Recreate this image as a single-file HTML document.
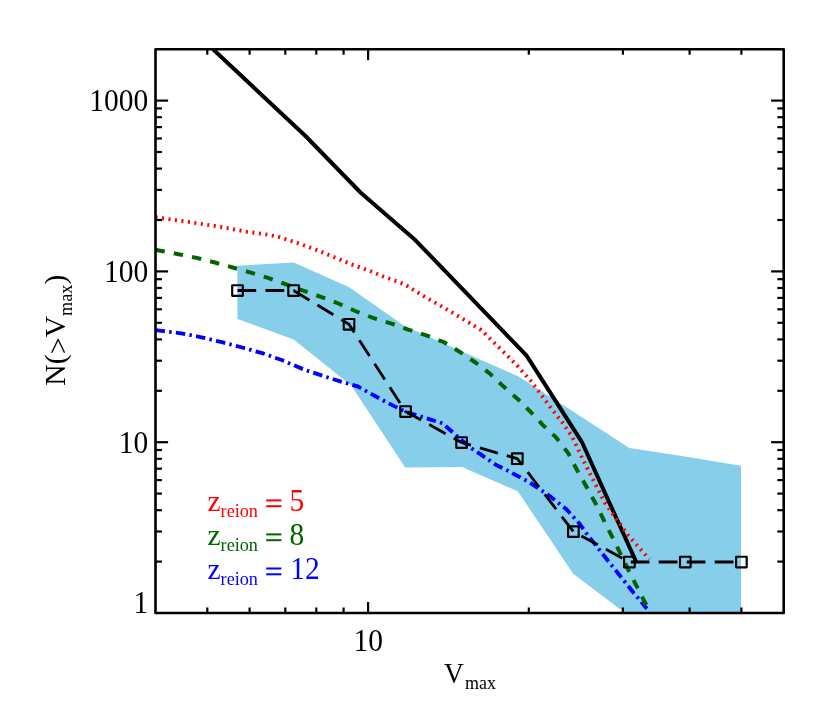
<!DOCTYPE html>
<html><head><meta charset="utf-8"><title>plot</title>
<style>
html,body{margin:0;padding:0;background:#fff;}
body{width:830px;height:712px;overflow:hidden;}
svg{display:block;will-change:transform;font-family:"Liberation Serif",serif;}
</style></head><body>
<svg width="830" height="712" viewBox="0 0 830 712">
<rect x="0" y="0" width="830" height="712" fill="#ffffff"/>
<defs><clipPath id="cp"><rect x="155.5" y="49.2" width="628.2" height="563.8"/></clipPath></defs>
<g clip-path="url(#cp)" fill="none" stroke-linejoin="round">
<polygon points="237.4,265.8 293.7,262.5 348.8,286.9 404.2,325.7 461.5,351.2 518.5,376.5 573.5,411.8 629.3,448.0 685.0,456.5 741.0,465.8 741.0,613.0 625.0,613.0 573.2,573.7 517.8,491.3 462.0,466.9 405.2,467.5 351.2,385.4 293.7,339.5 237.4,319.0" fill="#87ceeb" stroke="none"/>
<polyline points="213.0,49.2 305.5,136.0 360.5,192.5 415.5,240.3 526.4,355.4 581.8,441.8 636.0,561.5" stroke="#000" stroke-width="4"/>
<polyline points="155.5,217.2 162.6,218.3 188.3,221.9 214.4,225.9 227.3,228.1 246.6,231.7 265.9,234.4 278.6,236.9 297.1,242.8 315.7,249.6 334.2,257.2 352.8,264.8 371.3,271.5 382.2,276.1 400.0,282.5 406.0,285.2 423.4,296.0 452.3,312.6 481.2,330.0 498.5,347.0 517.1,365.5 530.6,380.7 538.2,390.8 550.0,406.8 562.6,422.8 571.9,436.3 581.2,456.0 592.8,479.2 604.7,502.5 627.5,534.6 649.4,559.3" stroke="#ff0000" stroke-width="3.9" stroke-dasharray="2.05 4.49"/>
<polyline points="155.5,330.1 161.3,330.8 181.2,333.3 201.4,337.3 222.0,342.2 242.3,347.5 263.0,353.4 282.4,360.3 303.7,369.5 325.0,376.6 346.3,383.2 357.5,386.3 385.0,401.5 405.6,411.8 442.5,423.3 454.0,433.5 470.0,447.5 480.0,453.9 496.0,464.9 506.0,469.8 527.7,481.3 549.4,495.8 566.7,509.5 579.8,524.0 585.3,532.0 610.6,564.0 630.8,589.3 646.9,608.7" stroke="#0000ff" stroke-width="3.85" stroke-dasharray="9.5 4.25 2.5 4.25"/>
<polyline points="155.5,249.8 160.1,250.7 178.5,254.2 196.7,257.9 214.9,262.5 232.7,267.5 250.8,272.7 268.0,277.8 303.9,290.9 320.7,296.8 338.4,303.5 355.3,311.0 373.0,317.9 391.5,323.6 408.2,329.6 426.3,335.3 443.6,342.0 459.5,351.7 475.4,362.5 489.3,373.1 503.6,386.6 517.9,399.2 530.6,411.9 543.2,425.4 555.9,437.2 568.2,453.1 576.9,469.8 586.3,486.4 595.7,503.7 612.3,537.1 629.2,571.6 646.9,606.2" stroke="#006400" stroke-width="4" stroke-dasharray="9.4 9.2"/>
<polyline points="237.5,290.5 293.6,290.5 349.0,324.3 405.6,411.5 461.6,442.5 517.3,458.7 573.4,531.6 629.4,562.0 685.3,562.0 741.4,562.0" stroke="#000" stroke-width="2.8" stroke-dasharray="18.7 9.3"/>
<g stroke="#000" stroke-width="2.15"><rect x="232.2" y="285.2" width="10.6" height="10.6"/><rect x="288.3" y="285.2" width="10.6" height="10.6"/><rect x="343.7" y="319.0" width="10.6" height="10.6"/><rect x="400.3" y="406.2" width="10.6" height="10.6"/><rect x="456.3" y="437.2" width="10.6" height="10.6"/><rect x="512.0" y="453.4" width="10.6" height="10.6"/><rect x="568.1" y="526.3" width="10.6" height="10.6"/><rect x="624.1" y="556.7" width="10.6" height="10.6"/><rect x="680.0" y="556.7" width="10.6" height="10.6"/><rect x="736.1" y="556.7" width="10.6" height="10.6"/></g>
</g>
<g stroke="#000" stroke-width="2.2"><line x1="155.5" y1="561.6" x2="161.9" y2="561.6"/><line x1="783.7" y1="561.6" x2="777.3" y2="561.6"/><line x1="155.5" y1="531.5" x2="161.9" y2="531.5"/><line x1="783.7" y1="531.5" x2="777.3" y2="531.5"/><line x1="155.5" y1="510.2" x2="161.9" y2="510.2"/><line x1="783.7" y1="510.2" x2="777.3" y2="510.2"/><line x1="155.5" y1="493.6" x2="161.9" y2="493.6"/><line x1="783.7" y1="493.6" x2="777.3" y2="493.6"/><line x1="155.5" y1="480.1" x2="161.9" y2="480.1"/><line x1="783.7" y1="480.1" x2="777.3" y2="480.1"/><line x1="155.5" y1="468.7" x2="161.9" y2="468.7"/><line x1="783.7" y1="468.7" x2="777.3" y2="468.7"/><line x1="155.5" y1="458.8" x2="161.9" y2="458.8"/><line x1="783.7" y1="458.8" x2="777.3" y2="458.8"/><line x1="155.5" y1="450.0" x2="161.9" y2="450.0"/><line x1="783.7" y1="450.0" x2="777.3" y2="450.0"/><line x1="155.5" y1="442.2" x2="168.1" y2="442.2"/><line x1="783.7" y1="442.2" x2="771.1" y2="442.2"/><line x1="155.5" y1="390.8" x2="161.9" y2="390.8"/><line x1="783.7" y1="390.8" x2="777.3" y2="390.8"/><line x1="155.5" y1="360.7" x2="161.9" y2="360.7"/><line x1="783.7" y1="360.7" x2="777.3" y2="360.7"/><line x1="155.5" y1="339.4" x2="161.9" y2="339.4"/><line x1="783.7" y1="339.4" x2="777.3" y2="339.4"/><line x1="155.5" y1="322.8" x2="161.9" y2="322.8"/><line x1="783.7" y1="322.8" x2="777.3" y2="322.8"/><line x1="155.5" y1="309.3" x2="161.9" y2="309.3"/><line x1="783.7" y1="309.3" x2="777.3" y2="309.3"/><line x1="155.5" y1="297.9" x2="161.9" y2="297.9"/><line x1="783.7" y1="297.9" x2="777.3" y2="297.9"/><line x1="155.5" y1="288.0" x2="161.9" y2="288.0"/><line x1="783.7" y1="288.0" x2="777.3" y2="288.0"/><line x1="155.5" y1="279.2" x2="161.9" y2="279.2"/><line x1="783.7" y1="279.2" x2="777.3" y2="279.2"/><line x1="155.5" y1="271.4" x2="168.1" y2="271.4"/><line x1="783.7" y1="271.4" x2="771.1" y2="271.4"/><line x1="155.5" y1="220.0" x2="161.9" y2="220.0"/><line x1="783.7" y1="220.0" x2="777.3" y2="220.0"/><line x1="155.5" y1="189.9" x2="161.9" y2="189.9"/><line x1="783.7" y1="189.9" x2="777.3" y2="189.9"/><line x1="155.5" y1="168.6" x2="161.9" y2="168.6"/><line x1="783.7" y1="168.6" x2="777.3" y2="168.6"/><line x1="155.5" y1="152.0" x2="161.9" y2="152.0"/><line x1="783.7" y1="152.0" x2="777.3" y2="152.0"/><line x1="155.5" y1="138.5" x2="161.9" y2="138.5"/><line x1="783.7" y1="138.5" x2="777.3" y2="138.5"/><line x1="155.5" y1="127.1" x2="161.9" y2="127.1"/><line x1="783.7" y1="127.1" x2="777.3" y2="127.1"/><line x1="155.5" y1="117.2" x2="161.9" y2="117.2"/><line x1="783.7" y1="117.2" x2="777.3" y2="117.2"/><line x1="155.5" y1="108.4" x2="161.9" y2="108.4"/><line x1="783.7" y1="108.4" x2="777.3" y2="108.4"/><line x1="155.5" y1="100.6" x2="168.1" y2="100.6"/><line x1="783.7" y1="100.6" x2="771.1" y2="100.6"/><line x1="207.3" y1="613.0" x2="207.3" y2="607.5"/><line x1="207.3" y1="49.2" x2="207.3" y2="54.7"/><line x1="249.6" y1="613.0" x2="249.6" y2="607.5"/><line x1="249.6" y1="49.2" x2="249.6" y2="54.7"/><line x1="285.3" y1="613.0" x2="285.3" y2="607.5"/><line x1="285.3" y1="49.2" x2="285.3" y2="54.7"/><line x1="316.3" y1="613.0" x2="316.3" y2="607.5"/><line x1="316.3" y1="49.2" x2="316.3" y2="54.7"/><line x1="343.6" y1="613.0" x2="343.6" y2="607.5"/><line x1="343.6" y1="49.2" x2="343.6" y2="54.7"/><line x1="368.1" y1="613.0" x2="368.1" y2="602.0"/><line x1="368.1" y1="49.2" x2="368.1" y2="60.2"/><line x1="528.8" y1="613.0" x2="528.8" y2="607.5"/><line x1="528.8" y1="49.2" x2="528.8" y2="54.7"/><line x1="622.9" y1="613.0" x2="622.9" y2="607.5"/><line x1="622.9" y1="49.2" x2="622.9" y2="54.7"/><line x1="689.6" y1="613.0" x2="689.6" y2="607.5"/><line x1="689.6" y1="49.2" x2="689.6" y2="54.7"/><line x1="741.4" y1="613.0" x2="741.4" y2="607.5"/><line x1="741.4" y1="49.2" x2="741.4" y2="54.7"/></g>
<rect x="155.5" y="49.2" width="628.2" height="563.8" fill="none" stroke="#000" stroke-width="2.6" stroke-linejoin="round"/>
<g fill="#000" font-size="29.5">
<text transform="translate(148.2,110.9) scale(1,1.09)" text-anchor="end">1000</text>
<text transform="translate(148.2,281.7) scale(1,1.09)" text-anchor="end">100</text>
<text transform="translate(148.2,452.5) scale(1,1.09)" text-anchor="end">10</text>
<text transform="translate(148.2,613.0) scale(1,1.09)" text-anchor="end">1</text>
<text transform="translate(368.3,650.8) scale(1,1.09)" text-anchor="middle">10</text>
<text transform="translate(443.9,682.7) scale(0.935,0.995)">V</text>
<text x="464.9" y="689" font-size="18">max</text>
<text transform="translate(64.7,385.8) rotate(-90) scale(1.012,1.0)">N(<tspan dy="3.2">&gt;</tspan><tspan dy="-3.2">V</tspan><tspan font-size="18" dy="7.3">max</tspan><tspan dy="-7.3">)</tspan></text>
</g>
<text x="207.5" y="510.5" fill="#ff0000" font-size="29.5">z<tspan font-size="18.2" dy="6.6">reion</tspan></text><rect x="266.2" y="499.4" width="15.2" height="2" fill="#ff0000"/><rect x="266.2" y="505.2" width="15.2" height="2" fill="#ff0000"/><text transform="translate(289.4,510.5) scale(1,1.08)" fill="#ff0000" font-size="29.5">5</text>
<text x="207.5" y="544.5" fill="#006400" font-size="29.5">z<tspan font-size="18.2" dy="6.6">reion</tspan></text><rect x="266.2" y="533.4" width="15.2" height="2" fill="#006400"/><rect x="266.2" y="539.2" width="15.2" height="2" fill="#006400"/><text transform="translate(289.4,544.5) scale(1,1.08)" fill="#006400" font-size="29.5">8</text>
<text x="207.5" y="578.6" fill="#0000ff" font-size="29.5">z<tspan font-size="18.2" dy="6.6">reion</tspan></text><rect x="266.2" y="567.5" width="15.2" height="2" fill="#0000ff"/><rect x="266.2" y="573.3" width="15.2" height="2" fill="#0000ff"/><text transform="translate(290.2,578.6) scale(1,1.08)" fill="#0000ff" font-size="29.5">12</text>
</svg>
</body></html>
